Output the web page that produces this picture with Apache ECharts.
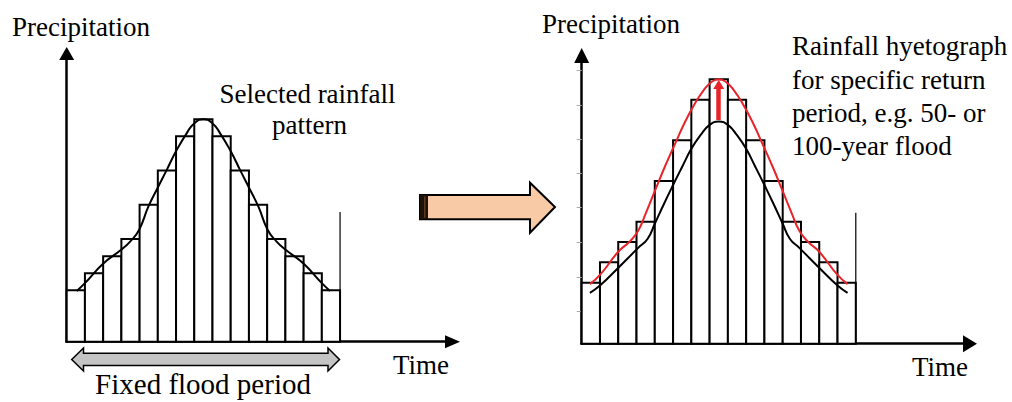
<!DOCTYPE html>
<html><head><meta charset="utf-8">
<script src="https://cdn.jsdelivr.net/npm/echarts@6/dist/echarts.min.js"></script>
<style>html,body{margin:0;padding:0;background:#fff}#c{width:1012px;height:402px}</style>
</head><body><div id="c"></div>
<script>
// ---- data ----
const patternBars = [3, 4, 5, 6, 8, 10, 12, 13, 12, 10, 8, 6, 5, 4, 3];
const designBars  = [3, 4, 5, 6, 8, 10, 12, 13, 12, 10, 8, 6, 5, 4, 3];
const patternCurveX = [0.55, 1.0, 1.98, 2.97, 3.48, 3.97, 4.48, 4.98, 5.49, 5.99, 6.59, 7.01, 7.5, 7.99, 8.41, 9.01, 9.51, 10.02, 10.52, 11.03, 11.52, 12.03, 13.02, 14.0, 14.45];
const patternCurveY = [2.96, 3.42, 4.54, 5.36, 5.85, 6.53, 7.89, 8.97, 10.04, 11.11, 12.19, 12.77, 13.0, 12.77, 12.19, 11.11, 10.04, 8.97, 7.89, 6.53, 5.85, 5.36, 4.54, 3.42, 2.96];
const baseCurveX = [0.45, 1.0, 1.91, 3.09, 3.6, 4.0, 4.5, 5.0, 5.5, 6.0, 6.5, 7.0, 7.5, 8.0, 8.5, 9.0, 9.5, 10.0, 10.5, 11.0, 11.4, 11.91, 13.09, 14.0, 14.55];
const baseCurveY = [2.50, 2.86, 3.65, 4.71, 5.15, 5.9, 6.87, 7.8, 8.7, 9.58, 10.25, 10.76, 10.93, 10.76, 10.25, 9.58, 8.7, 7.8, 6.87, 5.9, 5.15, 4.71, 3.65, 2.86, 2.50];
const designCurveX = [0.45, 1.0, 2.0, 2.6, 3.09, 3.5, 4.0, 4.55, 5.08, 5.62, 6.15, 6.68, 7.12, 7.5, 7.88, 8.32, 8.85, 9.38, 9.92, 10.45, 11.0, 11.5, 11.91, 12.4, 13.0, 14.0, 14.55];
const designCurveY = [2.93, 3.38, 4.52, 5.0, 5.55, 6.4, 7.5, 8.7, 9.77, 10.84, 11.74, 12.47, 12.88, 13.0, 12.88, 12.47, 11.74, 10.84, 9.77, 8.7, 7.5, 6.4, 5.55, 5.0, 4.52, 3.38, 2.93];
const leftEdge = [[15, 0], [15, 7.58]];
const rightEdge = [[15, 0], [15, 6.44]];
const increaseArrow = [[7.5, 11.0], [7.5, 12.74]];
const rightTicks = [1.62, 3.29, 5.0, 6.69, 8.38, 10.05, 11.74, 13.46];
const texts = {
  yName: 'Precipitation', xName: 'Time',
  pattern1: 'Selected rainfall', pattern2: 'pattern',
  design: 'Rainfall hyetograph\nfor specific return\nperiod, e.g. 50- or\n100-year flood',
  period: 'Fixed flood period'
};

// ---- chart ----
const FONT = 'Liberation Serif';
const RED = '#e8242a';
const zip = (a, b) => a.map((v, i) => [v, b[i]]);
function barItem(params, api) {
  const i = api.value(0), v = api.value(1);
  const p0 = api.coord([i, 0]);
  const p1 = api.coord([i + 1, v]);
  return { type: 'rect', shape: { x: p0[0], y: p1[1], width: p1[0] - p0[0], height: p0[1] - p1[1] },
    style: { fill: '#fff', stroke: '#000', lineWidth: 2 } };
}
function txt(text, x, y, size, align, valign) {
  return { type: 'text', x: x, y: y, z: 10,
    style: { text: text, fontSize: size, fontFamily: FONT, fill: '#000',
      align: align || 'left', verticalAlign: valign || 'middle', lineHeight: 33.3 } };
}
const chart = echarts.init(document.getElementById('c'), null, { renderer: 'svg' });
const axisLineStyle = { color: '#000', width: 2.5 };
chart.setOption({
  animation: false,
  backgroundColor: '#fff',
  grid: [
    { left: 66.7, top: 53.5, width: 385.8, height: 288.2 },
    { left: 581.7, top: 55.5, width: 388.3, height: 288.2 }
  ],
  xAxis: [
    { type: 'value', gridIndex: 0, min: 0, max: 21.17,
      axisLine: { show: true, symbol: ['none', 'triangle'], symbolSize: [13, 15], lineStyle: axisLineStyle },
      axisTick: { show: false }, axisLabel: { show: false }, splitLine: { show: false } },
    { type: 'value', gridIndex: 1, min: 0, max: 21.25,
      axisLine: { show: true, symbol: ['none', 'triangle'], symbolSize: [17, 14], lineStyle: axisLineStyle },
      axisTick: { show: false }, axisLabel: { show: false }, splitLine: { show: false } }
  ],
  yAxis: [
    { type: 'value', gridIndex: 0, min: 0, max: 16.84,
      axisLine: { show: true, symbol: ['none', 'triangle'], symbolSize: [15, 13], lineStyle: axisLineStyle },
      axisTick: { show: false }, axisLabel: { show: false }, splitLine: { show: false } },
    { type: 'value', gridIndex: 1, min: 0, max: 14.17,
      axisLine: { show: true, symbol: ['none', 'triangle'], symbolSize: [15, 15], lineStyle: axisLineStyle },
      axisTick: { show: true, customValues: rightTicks, length: 5, lineStyle: { color: '#aaa', width: 1 } },
      axisLabel: { show: false, customValues: rightTicks }, splitLine: { show: false } }
  ],
  series: [
    { type: 'custom', xAxisIndex: 0, yAxisIndex: 0, renderItem: barItem, data: patternBars.map((v, i) => [i, v]), z: 2 },
    { type: 'line', xAxisIndex: 0, yAxisIndex: 0, data: leftEdge, symbol: 'none', lineStyle: { color: '#000', width: 1.2 }, z: 2 },
    { type: 'line', xAxisIndex: 0, yAxisIndex: 0, data: zip(patternCurveX, patternCurveY), smooth: 0.5, symbol: 'none',
      lineStyle: { color: '#000', width: 2 }, z: 3 },
    { type: 'custom', xAxisIndex: 1, yAxisIndex: 1, renderItem: barItem, data: designBars.map((v, i) => [i, v]), z: 2 },
    { type: 'line', xAxisIndex: 1, yAxisIndex: 1, data: rightEdge, symbol: 'none', lineStyle: { color: '#000', width: 1.2 }, z: 2 },
    { type: 'line', xAxisIndex: 1, yAxisIndex: 1, data: zip(baseCurveX, baseCurveY), smooth: 0.5, symbol: 'none',
      lineStyle: { color: '#000', width: 2 }, z: 3 },
    { type: 'line', xAxisIndex: 1, yAxisIndex: 1, data: zip(designCurveX, designCurveY), smooth: 0.5, symbol: 'none',
      lineStyle: { color: RED, width: 2 }, z: 4,
      markLine: { silent: true, symbol: ['none', 'triangle'], symbolSize: [11, 9], label: { show: false },
        lineStyle: { color: RED, width: 4.5, type: 'solid' },
        data: [[{ coord: increaseArrow[0] }, { coord: increaseArrow[1] }]] } }
  ],
  graphic: [
    { type: 'polygon', z: 5, shape: { points: [[420, 195], [530, 195], [530, 182.7], [555, 207], [530, 232.7], [530, 219.3], [420, 219.3]] },
      style: { fill: '#f8cba6', stroke: '#000', lineWidth: 2 } },
    { type: 'rect', z: 6, shape: { x: 420, y: 195, width: 8, height: 24.3 }, style: { fill: '#1c120a' } },
    { type: 'rect', z: 7, shape: { x: 424, y: 196.5, width: 1.5, height: 21.3 }, style: { fill: '#5a3a22' } },
    { type: 'polygon', z: 5, shape: { points: [[71.7, 359.5], [83.5, 348], [83.5, 353.3], [328, 353.3], [328, 348], [339.5, 359.5], [328, 371], [328, 365.5], [83.5, 365.5], [83.5, 371]] },
      style: { fill: '#c4c4c4', stroke: '#000', lineWidth: 1.5 } },
    txt(texts.yName, 12, 27, 27),
    txt(texts.yName, 542, 24, 27),
    txt(texts.pattern1, 307.5, 94, 27, 'center'),
    txt(texts.pattern2, 309.5, 125, 27, 'center'),
    txt(texts.design, 792, 29.7, 27, 'left', 'top'),
    txt(texts.xName, 393, 365, 27),
    txt(texts.xName, 912, 367, 27),
    txt(texts.period, 203, 384, 29, 'center')
  ]
});
</script>
</body></html>
